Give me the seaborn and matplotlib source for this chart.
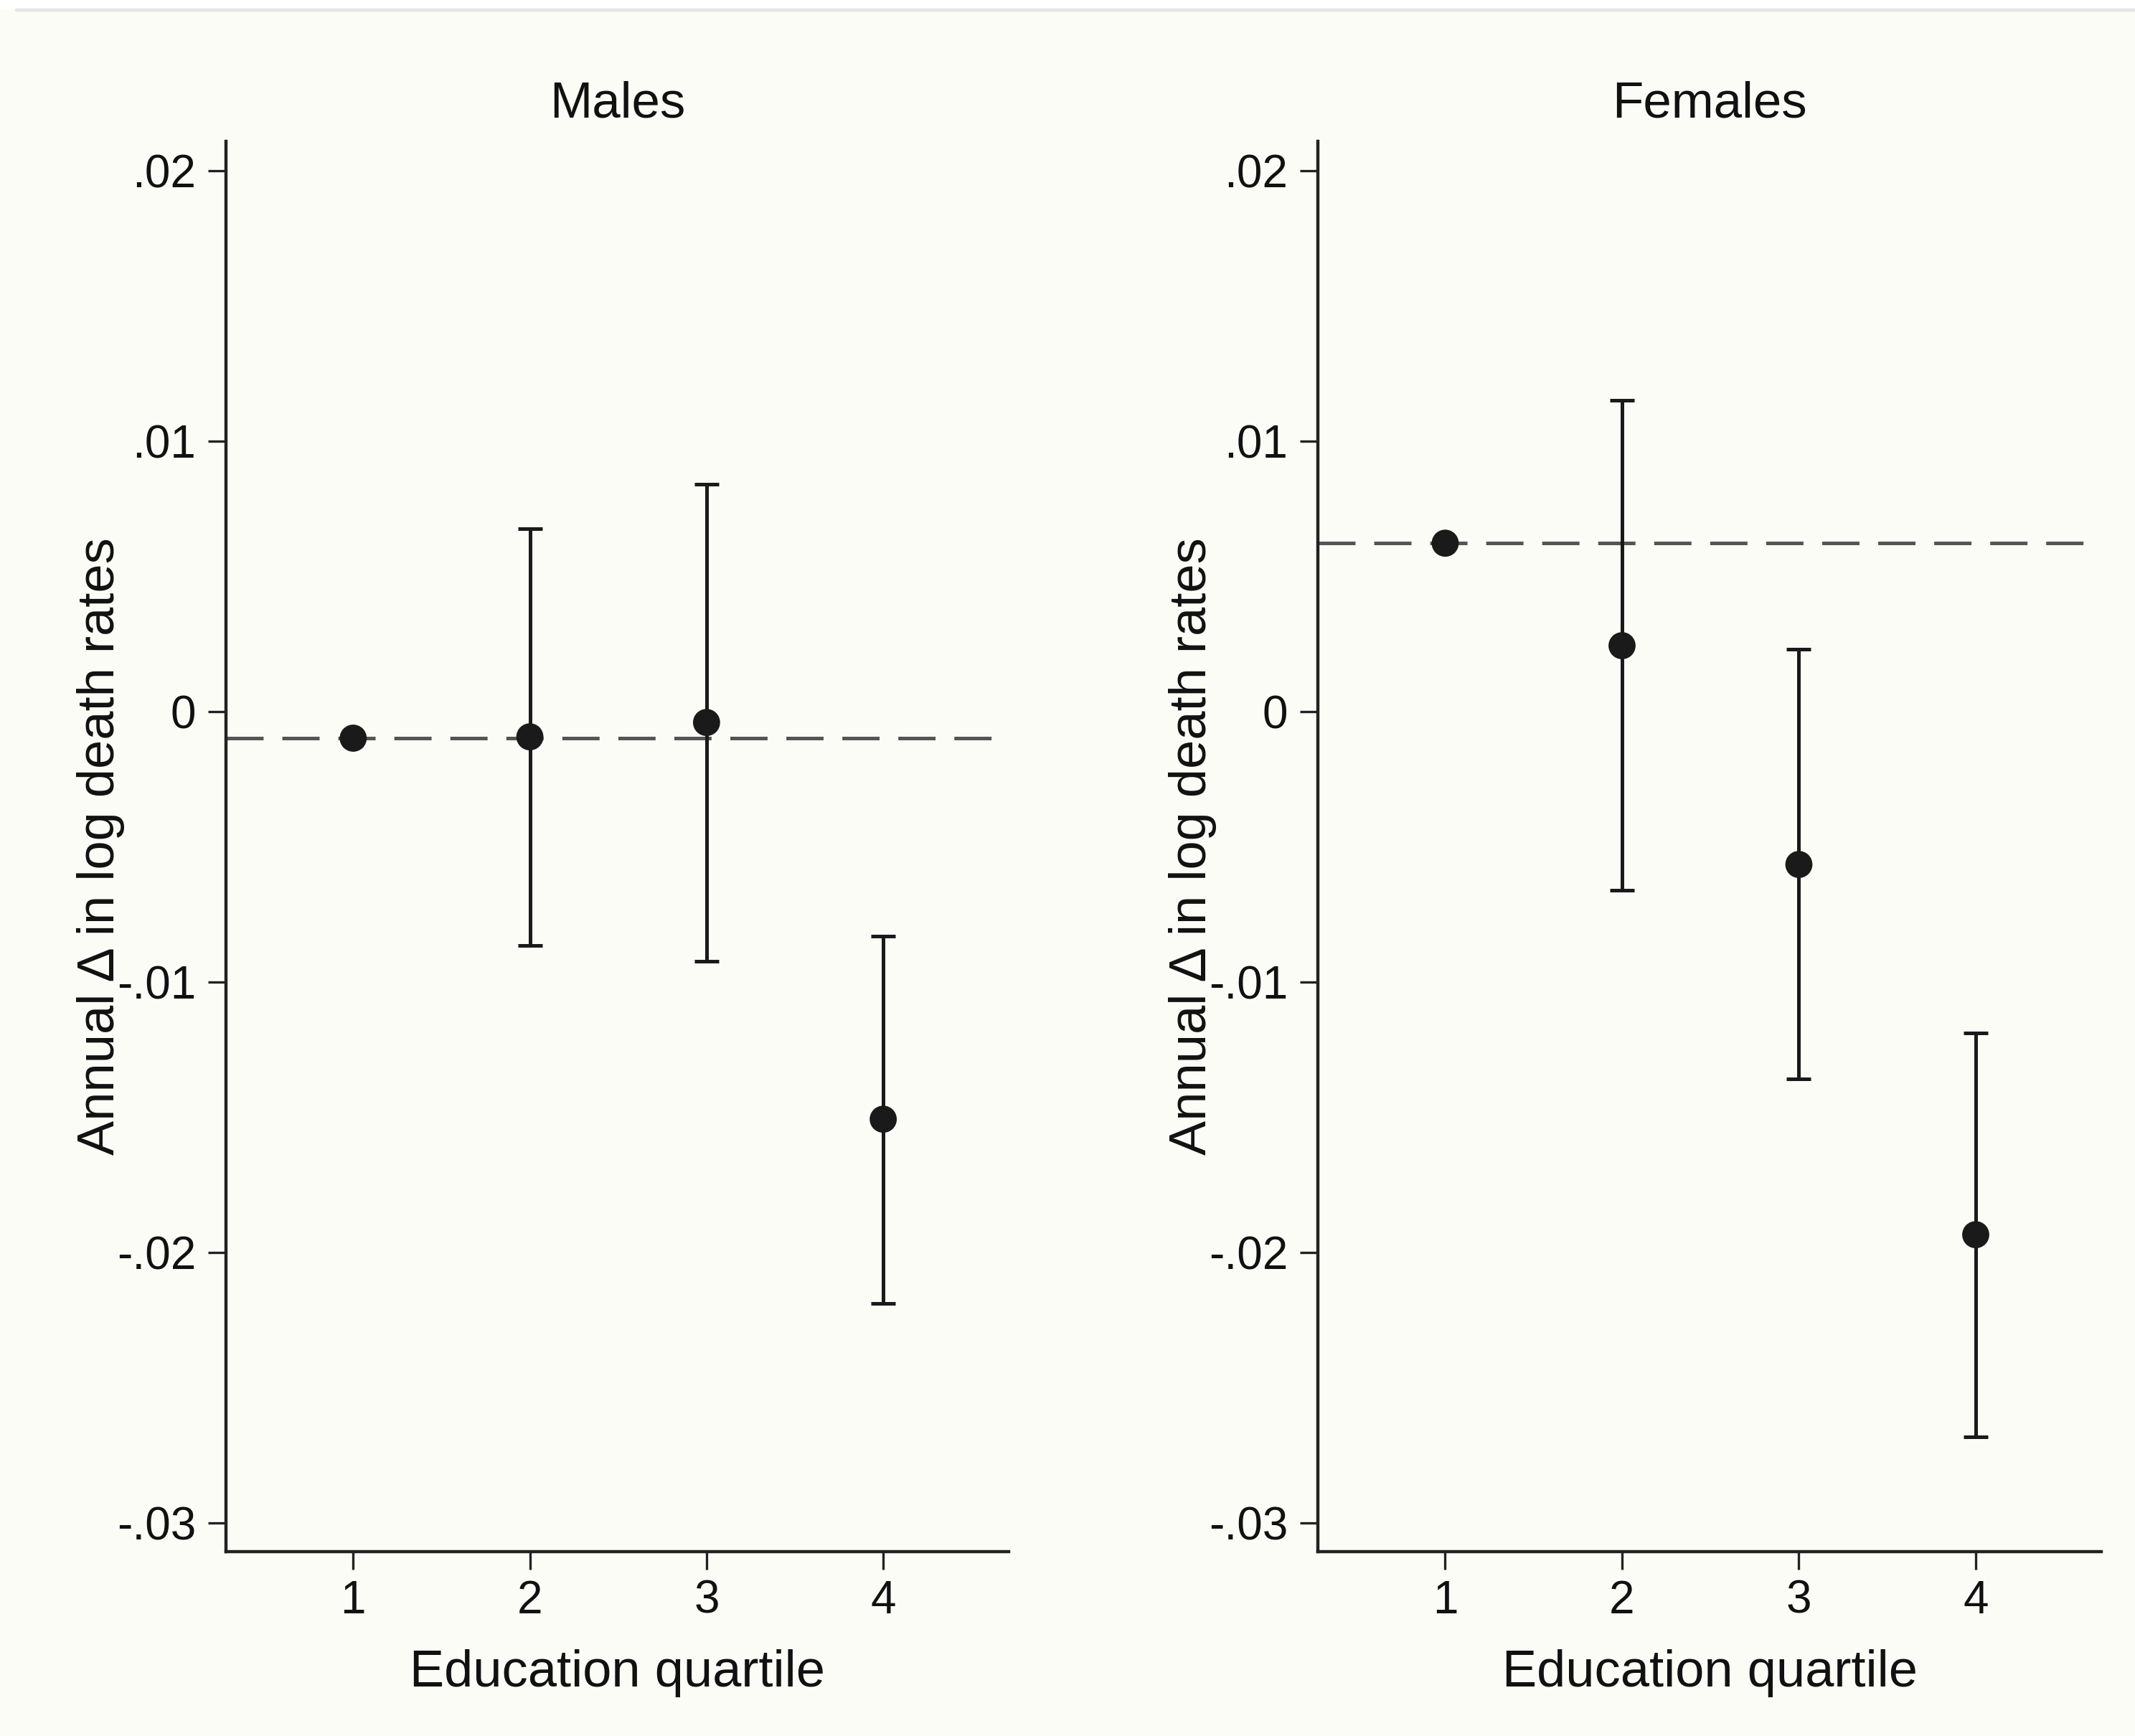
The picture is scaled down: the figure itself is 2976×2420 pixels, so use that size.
import numpy as np
import pandas as pd
import matplotlib
matplotlib.use("Agg")
import matplotlib.pyplot as plt
from matplotlib.patches import Rectangle
from matplotlib.lines import Line2D
import seaborn as sns

# ---- data ----
quartiles = [1, 2, 3, 4]
panels = ["Males", "Females"]

males_est = [-0.00098, -0.00093, -0.00040, -0.01507]
males_lo = [np.nan, -0.00865, -0.00923, -0.02188]
males_hi = [np.nan, 0.00676, 0.00840, -0.00830]

females_est = [0.00623, 0.00244, -0.00565, -0.01934]
females_lo = [np.nan, -0.00660, -0.01358, -0.02682]
females_hi = [np.nan, 0.01151, 0.00231, -0.01188]

ref_lines = [-0.00098, 0.00623]  # dashed reference = quartile-1 estimate

yticks = [0.02, 0.01, 0.0, -0.01, -0.02, -0.03]
ytick_labels = [".02", ".01", "0", "-.01", "-.02", "-.03"]
xtick_labels = ["1", "2", "3", "4"]

ylabel = "Annual \u0394 in log death rates"
xlabel = "Education quartile"

df = pd.DataFrame({
    "panel": ["Males"] * 4 + ["Females"] * 4,
    "quartile": quartiles * 2,
    "est": males_est + females_est,
    "lo": males_lo + females_lo,
    "hi": males_hi + females_hi,
})

# ---- style ----
sns.set_theme(style="ticks")
plt.rcParams["font.family"] = ["Liberation Sans", "DejaVu Sans"]

BG = "#FCFCF7"
INK = "#1a1a1a"

W, H = 2976, 2420
DPI = 200
fig = plt.figure(figsize=(W / DPI, H / DPI), dpi=DPI, facecolor=BG)

# white strip and light grey rule at the very top
fig.add_artist(Rectangle((0, 1 - 12 / H), 1, 12 / H, transform=fig.transFigure,
                         facecolor="white", edgecolor="none", zorder=0))
fig.add_artist(Line2D([23 / W, 1], [1 - 14 / H, 1 - 14 / H], transform=fig.transFigure,
                      color="#E4E4E4", lw=1.6, zorder=1))

ax_pos = [
    [315 / W, 1 - 2163 / H, (1406 - 315) / W, (2163 - 197) / H],
    [1837 / W, 1 - 2163 / H, (2929 - 1837) / W, (2163 - 197) / H],
]

lw = 1.8
for i, name in enumerate(panels):
    ax = fig.add_axes(ax_pos[i])
    ax.set_facecolor(BG)
    sub = df[df["panel"] == name]

    # dashed reference line
    ax.axhline(ref_lines[i], color="#555555", lw=lw,
               ls=(0, (18.7 / lw, 9.4 / lw)), zorder=1)

    # confidence intervals
    ci = sub.dropna(subset=["lo", "hi"])
    ax.errorbar(ci["quartile"], ci["est"],
                yerr=[ci["est"] - ci["lo"], ci["hi"] - ci["est"]],
                fmt="none", ecolor=INK, elinewidth=lw, capsize=6.2,
                capthick=lw, zorder=2)

    # point estimates
    sns.scatterplot(data=sub, x="quartile", y="est", ax=ax, s=185,
                    color=INK, edgecolor="none", zorder=3, legend=False)

    ax.set_xlim(0.28, 4.71)
    ax.set_ylim(-0.03106, 0.02109)
    ax.set_xticks(quartiles)
    ax.set_xticklabels(xtick_labels)
    ax.set_yticks(yticks)
    ax.set_yticklabels(ytick_labels)

    ax.set_title(name, fontsize=25.5, pad=12, color="#111111")
    ax.set_xlabel(xlabel, fontsize=26, labelpad=13.5, color="#111111")
    ax.set_ylabel(ylabel, fontsize=26, labelpad=-4, color="#111111")

    sns.despine(ax=ax)
    for s in ["left", "bottom"]:
        ax.spines[s].set_linewidth(1.6)
        ax.spines[s].set_color("#222222")
    ax.tick_params(axis="both", labelsize=23, length=9, width=1.2,
                   color="#222222", labelcolor="#111111")
    ax.tick_params(axis="y", pad=6)
    ax.tick_params(axis="x", pad=5)

fig.savefig("out.png", dpi=DPI, facecolor=BG)
